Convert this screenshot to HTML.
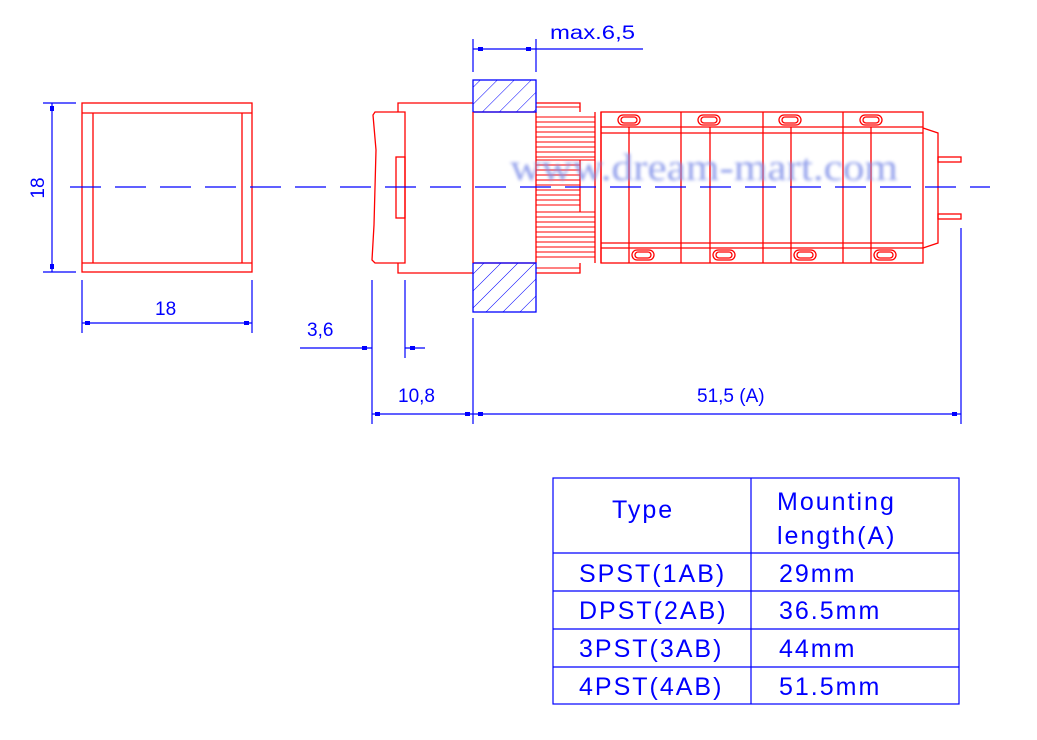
<!DOCTYPE html>
<html><head><style>
html,body{margin:0;padding:0;background:#fff;}
svg{display:block;}
text{font-family:"Liberation Sans",sans-serif;fill:#0000ff;}
</style></head><body>
<svg width="1037" height="740" viewBox="0 0 1037 740" xmlns="http://www.w3.org/2000/svg">
<defs>
<pattern id="h" width="12" height="12" patternUnits="userSpaceOnUse" patternTransform="rotate(45)">
<line x1="0" y1="0" x2="0" y2="12" stroke="#0000ff" stroke-width="1"/>
</pattern>
<filter id="b"><feGaussianBlur stdDeviation="1.6"/></filter>
</defs>
<g fill="none" stroke="#ff0000" stroke-width="1.3">
<rect x="82" y="103" width="170" height="169"/>
<line x1="82" y1="113" x2="252" y2="113"/>
<line x1="82" y1="263" x2="252" y2="263"/>
<line x1="93" y1="113" x2="93" y2="263"/>
<line x1="242" y1="113" x2="242" y2="263"/>
<path d="M375,112 L405,112 L405,263 L375,263 L372,260 L374,225 L376,150 L373,115 Z"/>
<rect x="396" y="157" width="9" height="61"/>
<path d="M398,112 L398,103 L473,103 M398,263 L398,273 L473,273"/>
<line x1="473" y1="112" x2="536" y2="112"/>
<line x1="473" y1="263" x2="536" y2="263"/>
<path d="M536,103 L580,103 L580,112 M536,273 L580,273 L580,263"/>
<line x1="536" y1="112" x2="536" y2="263"/>
<line x1="595" y1="112" x2="595" y2="263"/>
<line x1="601" y1="112" x2="601" y2="263"/>
<line x1="580" y1="160" x2="580" y2="212"/>
</g>
<g stroke="#ff0000" stroke-width="1">
<line x1="536" y1="107" x2="580" y2="107"/>
<line x1="536" y1="268" x2="580" y2="268"/>
<line x1="536" y1="117" x2="595" y2="117"/><line x1="536" y1="122" x2="595" y2="122"/>
<line x1="536" y1="127" x2="595" y2="127"/><line x1="536" y1="132" x2="595" y2="132"/>
<line x1="536" y1="137" x2="595" y2="137"/><line x1="536" y1="142" x2="595" y2="142"/>
<line x1="536" y1="147" x2="595" y2="147"/><line x1="536" y1="152" x2="595" y2="152"/>
<line x1="536" y1="157" x2="595" y2="157"/><line x1="536" y1="160" x2="595" y2="160"/>
<line x1="536" y1="165" x2="580" y2="165"/><line x1="536" y1="170" x2="580" y2="170"/>
<line x1="536" y1="175" x2="580" y2="175"/><line x1="536" y1="180" x2="580" y2="180"/>
<line x1="536" y1="185" x2="580" y2="185"/><line x1="536" y1="190" x2="580" y2="190"/>
<line x1="536" y1="195" x2="580" y2="195"/><line x1="536" y1="200" x2="580" y2="200"/>
<line x1="536" y1="205" x2="580" y2="205"/><line x1="536" y1="212" x2="595" y2="212"/>
<line x1="536" y1="217" x2="595" y2="217"/><line x1="536" y1="222" x2="595" y2="222"/>
<line x1="536" y1="227" x2="595" y2="227"/><line x1="536" y1="232" x2="595" y2="232"/>
<line x1="536" y1="237" x2="595" y2="237"/><line x1="536" y1="242" x2="595" y2="242"/>
<line x1="536" y1="247" x2="595" y2="247"/><line x1="536" y1="252" x2="595" y2="252"/>
<line x1="536" y1="257" x2="595" y2="257"/>
</g>
<g fill="none" stroke="#ff0000" stroke-width="1.3">
<rect x="601" y="112" width="322" height="151"/>
<line x1="601" y1="127" x2="923" y2="127"/>
<line x1="601" y1="133" x2="923" y2="133"/>
<line x1="601" y1="243" x2="923" y2="243"/>
<line x1="601" y1="248" x2="923" y2="248"/>
<line x1="681" y1="112" x2="681" y2="263"/>
<line x1="763" y1="112" x2="763" y2="263"/>
<line x1="843" y1="112" x2="843" y2="263"/>
<line x1="629" y1="127" x2="629" y2="263"/>
<line x1="710" y1="127" x2="710" y2="263"/>
<line x1="791" y1="127" x2="791" y2="263"/>
<line x1="871" y1="127" x2="871" y2="263"/>
<path d="M923,128 L938,133 L938,243 L923,248"/>
<rect x="938" y="157" width="23" height="5"/>
<rect x="938" y="214" width="23" height="5"/>
<rect x="618" y="115" width="22" height="10" rx="5"/><rect x="621" y="117" width="16" height="6" rx="3"/>
<rect x="698" y="115" width="22" height="10" rx="5"/><rect x="701" y="117" width="16" height="6" rx="3"/>
<rect x="779" y="115" width="22" height="10" rx="5"/><rect x="782" y="117" width="16" height="6" rx="3"/>
<rect x="860" y="115" width="22" height="10" rx="5"/><rect x="863" y="117" width="16" height="6" rx="3"/>
<rect x="632" y="250" width="22" height="10" rx="5"/><rect x="635" y="252" width="16" height="6" rx="3"/>
<rect x="713" y="250" width="22" height="10" rx="5"/><rect x="716" y="252" width="16" height="6" rx="3"/>
<rect x="794" y="250" width="22" height="10" rx="5"/><rect x="797" y="252" width="16" height="6" rx="3"/>
<rect x="874" y="250" width="22" height="10" rx="5"/><rect x="877" y="252" width="16" height="6" rx="3"/>
</g>
<rect x="473" y="80" width="63" height="32" fill="url(#h)" stroke="#0000ff" stroke-width="1.3"/>
<rect x="473" y="263" width="63" height="49" fill="url(#h)" stroke="#0000ff" stroke-width="1.3"/>
<line x1="473" y1="112" x2="473" y2="263" stroke="#ff0000" stroke-width="1.3"/>
<text x="510" y="180" textLength="388" lengthAdjust="spacingAndGlyphs" style="font-family:'Liberation Serif',serif;font-size:38px;fill:#7f8fe8;opacity:0.85" filter="url(#b)">www.dream-mart.com</text>
<line x1="70" y1="187" x2="990" y2="187" stroke="#0000ff" stroke-width="1.2" stroke-dasharray="31,14"/>
<g stroke="#0000ff" stroke-width="1.2" fill="none">
<line x1="43" y1="103" x2="76" y2="103"/><line x1="43" y1="272" x2="76" y2="272"/>
<line x1="52" y1="103" x2="52" y2="272"/>
<line x1="82" y1="280" x2="82" y2="333"/><line x1="252" y1="280" x2="252" y2="333"/>
<line x1="82" y1="323" x2="252" y2="323"/>
<line x1="372" y1="280" x2="372" y2="424"/><line x1="405" y1="280" x2="405" y2="358"/>
<line x1="300" y1="348" x2="372" y2="348"/><line x1="405" y1="348" x2="425" y2="348"/>
<line x1="473" y1="318" x2="473" y2="424"/><line x1="961" y1="228" x2="961" y2="424"/>
<line x1="372" y1="414" x2="961" y2="414"/>
<line x1="473" y1="39" x2="473" y2="72"/><line x1="536" y1="39" x2="536" y2="72"/>
<line x1="473" y1="49" x2="643" y2="49"/>
</g>
<g fill="#0000ff">
<rect x="50" y="106" width="4" height="5"/><rect x="50" y="264" width="4" height="5"/>
<rect x="85" y="321" width="5" height="4"/><rect x="244" y="321" width="5" height="4"/>
<rect x="362" y="346" width="5" height="4"/><rect x="410" y="346" width="5" height="4"/>
<rect x="375" y="412" width="5" height="4"/><rect x="465" y="412" width="5" height="4"/>
<rect x="478" y="412" width="5" height="4"/><rect x="952" y="412" width="5" height="4"/>
<rect x="478" y="47" width="5" height="4"/><rect x="526" y="47" width="5" height="4"/>
</g>
<text x="155" y="315" font-size="19">18</text>
<text x="44" y="188" font-size="19" transform="rotate(-90 44 188)" text-anchor="middle">18</text>
<text x="307" y="336" font-size="19">3,6</text>
<text x="398" y="402" font-size="19">10,8</text>
<text x="697" y="402" font-size="19">51,5 (A)</text>
<text x="550" y="39" font-size="19" textLength="85" lengthAdjust="spacingAndGlyphs">max.6,5</text>
<g stroke="#0000ff" stroke-width="1.2" fill="none">
<rect x="553" y="478" width="406" height="226"/>
<line x1="751" y1="478" x2="751" y2="704"/>
<line x1="553" y1="553" x2="959" y2="553"/>
<line x1="553" y1="591" x2="959" y2="591"/>
<line x1="553" y1="629" x2="959" y2="629"/>
<line x1="553" y1="667" x2="959" y2="667"/>
</g>
<g font-size="25" letter-spacing="2">
<text x="612" y="518">Type</text>
<text x="777" y="510">Mounting</text>
<text x="777" y="544">length(A)</text>
<text x="579" y="582">SPST(1AB)</text><text x="779" y="582">29mm</text>
<text x="579" y="619">DPST(2AB)</text><text x="779" y="619">36.5mm</text>
<text x="579" y="657">3PST(3AB)</text><text x="779" y="657">44mm</text>
<text x="579" y="695">4PST(4AB)</text><text x="779" y="695">51.5mm</text>
</g>
</svg>
</body></html>
